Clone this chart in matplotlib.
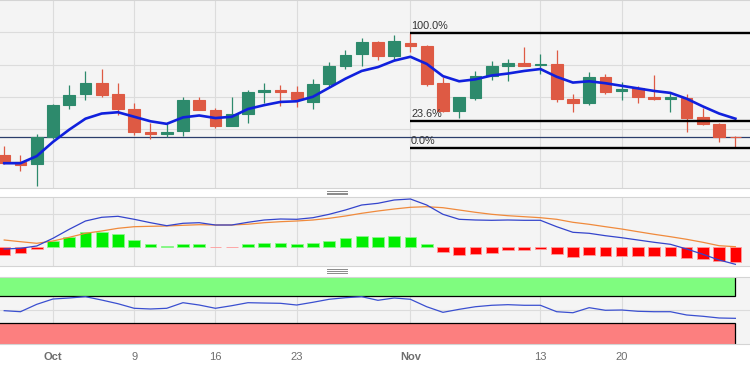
import matplotlib.pyplot as plt
import pandas as pd
from matplotlib.lines import Line2D
from matplotlib.patches import Rectangle

plt.rcParams['font.family'] = ['Liberation Sans', 'DejaVu Sans']

# daily candles, 27 Sep - 29 Nov 2023 (weekdays)
dates = pd.bdate_range('2023-09-27', '2023-11-29')

opens = [1.3609, 1.3599, 1.3595, 1.3638, 1.3688, 1.3704, 1.3722, 1.3704, 1.3681, 1.3645,
         1.3643, 1.3647, 1.3695, 1.3680, 1.3655, 1.3674, 1.3708, 1.3710, 1.3707, 1.3692,
         1.3720, 1.3747, 1.3766, 1.3785, 1.3763, 1.3784, 1.3778, 1.3722, 1.3678, 1.3698,
         1.3732, 1.3748, 1.3753, 1.3750, 1.3751, 1.3697, 1.3691, 1.3731, 1.3709, 1.3713,
         1.3699, 1.3697, 1.3698, 1.3668, 1.3658, 1.3638]
highs = [1.3623, 1.3610, 1.3643, 1.3689, 1.3718, 1.3740, 1.3743, 1.3722, 1.3690, 1.3659,
         1.3659, 1.3700, 1.3699, 1.3683, 1.3700, 1.3711, 1.3721, 1.3718, 1.3717, 1.3728,
         1.3754, 1.3772, 1.3791, 1.3786, 1.3796, 1.3799, 1.3780, 1.3731, 1.3700, 1.3740,
         1.3756, 1.3758, 1.3777, 1.3766, 1.3772, 1.3705, 1.3739, 1.3735, 1.3723, 1.3717,
         1.3734, 1.3706, 1.3705, 1.3682, 1.3660, 1.3639]
lows = [1.3596, 1.3585, 1.3561, 1.3635, 1.3681, 1.3695, 1.3700, 1.3672, 1.3641, 1.3635,
        1.3637, 1.3639, 1.3679, 1.3652, 1.3654, 1.3659, 1.3690, 1.3685, 1.3684, 1.3681,
        1.3715, 1.3743, 1.3748, 1.3757, 1.3757, 1.3769, 1.3717, 1.3677, 1.3667, 1.3695,
        1.3726, 1.3724, 1.3747, 1.3736, 1.3692, 1.3677, 1.3688, 1.3704, 1.3695, 1.3690,
        1.3695, 1.3677, 1.3646, 1.3657, 1.3630, 1.3621]
closes = [1.3597, 1.3594, 1.3638, 1.3687, 1.3703, 1.3722, 1.3702, 1.3681, 1.3645, 1.3642,
          1.3646, 1.3695, 1.3680, 1.3655, 1.3674, 1.3708, 1.3711, 1.3708, 1.3696, 1.3720,
          1.3748, 1.3765, 1.3785, 1.3763, 1.3787, 1.3779, 1.3720, 1.3678, 1.3699, 1.3732,
          1.3748, 1.3753, 1.3748, 1.3751, 1.3696, 1.3691, 1.3731, 1.3708, 1.3712, 1.3699,
          1.3697, 1.3699, 1.3667, 1.3658, 1.3637, 1.3637]
ma = [1.3597, 1.3597, 1.3608, 1.3630, 1.3649, 1.3666, 1.3674, 1.3676, 1.3669, 1.3662,
      1.3658, 1.3668, 1.3671, 1.3667, 1.3669, 1.3681, 1.3687, 1.3692, 1.3693, 1.3700,
      1.3714, 1.3728, 1.3740, 1.3746, 1.3756, 1.3762, 1.3751, 1.3732, 1.3724, 1.3727,
      1.3733, 1.3736, 1.3740, 1.3743, 1.3731, 1.3722, 1.3724, 1.3721, 1.3717, 1.3713,
      1.3709, 1.3706, 1.3697, 1.3685, 1.3674, 1.3666]

# MACD, in pips
macd_line = [-0.23, -0.16, 0.07, 0.84, 1.74, 2.57, 2.94, 3.04, 2.74, 2.40,
             2.10, 2.34, 2.40, 2.17, 2.17, 2.44, 2.67, 2.77, 2.74, 2.90,
             3.24, 3.67, 4.17, 4.34, 4.67, 4.77, 4.17, 3.24, 2.74, 2.67,
             2.64, 2.67, 2.64, 2.64, 2.00, 1.44, 1.34, 1.10, 0.90, 0.67,
             0.44, 0.24, -0.23, -0.76, -1.33, -1.76]
macd_signal = [0.67, 0.50, 0.34, 0.57, 0.94, 1.34, 1.57, 1.84, 2.00, 2.04,
               2.07, 2.14, 2.20, 2.17, 2.17, 2.25, 2.40, 2.50, 2.57, 2.67,
               2.84, 3.07, 3.34, 3.57, 3.77, 3.94, 4.00, 3.90, 3.67, 3.44,
               3.24, 3.10, 3.00, 2.90, 2.74, 2.44, 2.24, 2.00, 1.77, 1.50,
               1.24, 1.00, 0.74, 0.44, 0.10, 0.00]
macd_hist = [-0.83, -0.67, -0.23, 0.53, 1.00, 1.43, 1.50, 1.23, 0.67, 0.27,
             0.03, 0.23, 0.23, -0.03, -0.03, 0.25, 0.40, 0.40, 0.27, 0.40,
             0.60, 0.90, 1.10, 1.00, 1.07, 0.93, 0.27, -0.50, -0.83, -0.77,
             -0.60, -0.37, -0.33, -0.27, -0.73, -1.00, -0.83, -0.90, -0.90, -0.93,
             -0.93, -0.90, -1.10, -1.23, -1.43, -1.50]

rsi = [48.5, 47.0, 57.8, 65.6, 67.1, 69.0, 64.1, 58.7, 52.0, 51.0,
       52.0, 60.2, 56.8, 52.0, 55.8, 60.2, 59.7, 59.3, 56.8, 60.8,
       65.2, 67.5, 69.0, 63.7, 67.1, 65.2, 54.3, 46.1, 50.5, 54.3,
       56.4, 57.3, 56.4, 56.4, 47.0, 45.5, 52.9, 49.1, 49.5, 47.6,
       47.0, 47.0, 42.2, 40.3, 37.8, 37.3]

tick_dates = ['2023-10-02', '2023-10-09', '2023-10-16', '2023-10-23',
              '2023-11-01', '2023-11-13', '2023-11-20']
tick_labels = ['Oct', '9', '16', '23', 'Nov', '13', '20']
fib_levels = [1.0, 0.236, 0.0]

UP = '#2d8a6c'
DOWN = '#de5a44'
BG = '#f4f4f4'
GRID = '#dcdcdc'

W, H = 750, 370
fig = plt.figure(figsize=(W / 100, H / 100), dpi=100, facecolor='white')


def box(top, bottom):
    # pixel rows -> figure rect spanning the full width
    return [0, 1 - bottom / H, 1, (bottom - top) / H]


ax = fig.add_axes(box(0, 188.3))
ax_macd = fig.add_axes(box(197.3, 266), sharex=ax)
ax_rsi = fig.add_axes(box(277.3, 344), sharex=ax)

x = list(range(len(dates)))
tick_pos = [list(dates).index(pd.Timestamp(d)) for d in tick_dates]

for a in (ax, ax_macd, ax_rsi):
    a.set_facecolor(BG)
    for side in ('left', 'right'):
        a.spines[side].set_visible(False)
    for side in ('top', 'bottom'):
        a.spines[side].set_color('#d4d4d4')
        a.spines[side].set_linewidth(0.8)
    a.set_xticks(tick_pos)
    a.tick_params(axis='both', length=0)
    a.tick_params(axis='y', labelleft=False)
    a.grid(True, color=GRID, linewidth=0.8)
    a.set_axisbelow(True)
    a.set_xlim(-0.26, 45.9)

# candles
colors = [UP if c >= o else DOWN for o, c in zip(opens, closes)]
ax.vlines(x, lows, highs, colors=colors, linewidth=0.9, zorder=2)
bottoms = [min(o, c) for o, c in zip(opens, closes)]
heights = [abs(c - o) for o, c in zip(opens, closes)]
ax.bar(x, heights, bottom=bottoms, width=0.72, color=colors, edgecolor=colors,
       linewidth=0.8, zorder=3)
ax.plot(x, ma, color='#1020dd', linewidth=1.9, zorder=4)
ax.axhline(closes[-1], color='#2b3d6b', linewidth=0.9, zorder=1.5)

# fibonacci retracement from the top to the latest low
hi_idx = highs.index(max(highs))
hi = highs[hi_idx]
lo = min(lows[hi_idx:])
for lvl in fib_levels:
    yv = lo + lvl * (hi - lo)
    ax.plot([hi_idx, 46.5], [yv, yv], color='black', linewidth=1.7, zorder=5,
            solid_capstyle='butt')
    ax.annotate(f'{lvl * 100:.1f}%', (hi_idx, yv), xytext=(0.5, 1.2),
                textcoords='offset points', fontsize=7.8, color='#333333',
                ha='left', va='bottom', zorder=6)

ax.set_ylim(1.35581, 1.3850)
ax.set_yticks([1.3600, 1.3650, 1.3700, 1.3750, 1.3800])
ax.tick_params(axis='x', labelbottom=False)

# MACD
hist_colors = ['#00ee00' if v >= 0 else '#ff0000' for v in macd_hist]
hist_edges = ['#8cf78c' if v >= 0 else '#ff9a9a' for v in macd_hist]
ax_macd.bar(x, macd_hist, width=0.72, color=hist_colors, edgecolor=hist_edges,
            linewidth=0.6, zorder=2)
ax_macd.plot(x, macd_signal, color='#f08a3c', linewidth=0.9, zorder=3)
ax_macd.plot(x, macd_line, color='#3444cc', linewidth=0.9, zorder=4)
ax_macd.set_ylim(-1.93, 4.94)
ax_macd.set_yticks([3.24])
ax_macd.tick_params(axis='x', labelbottom=False)

# RSI
ax_rsi.add_patch(Rectangle((-2, 70), 47, 60, facecolor='#7ffc7f',
                           edgecolor='black', linewidth=0.9, zorder=1.2))
ax_rsi.add_patch(Rectangle((-2, -30), 47, 60, facecolor='#fc7f7f',
                           edgecolor='black', linewidth=0.9, zorder=1.2))
ax_rsi.plot(x, rsi, color='#3a4fd0', linewidth=0.9, zorder=3)
ax_rsi.set_ylim(-0.3, 97.4)
ax_rsi.set_yticks([50])
ax_rsi.set_xticklabels(tick_labels)
ax_rsi.tick_params(axis='x', pad=6, labelsize=8, labelcolor='#6e6e6e')
for lab in ax_rsi.get_xticklabels():
    if lab.get_text() in ('Oct', 'Nov'):
        lab.set_fontweight('bold')

# panel resize grips
for y0 in (191.0, 269.3):
    for k in range(3):
        yy = 1 - (y0 + k * 1.7) / H
        fig.add_artist(Line2D([327 / W, 347 / W], [yy, yy], color='#8a8a8a',
                              linewidth=0.7, transform=fig.transFigure))

fig.savefig('out.png', dpi=100, facecolor='white')
